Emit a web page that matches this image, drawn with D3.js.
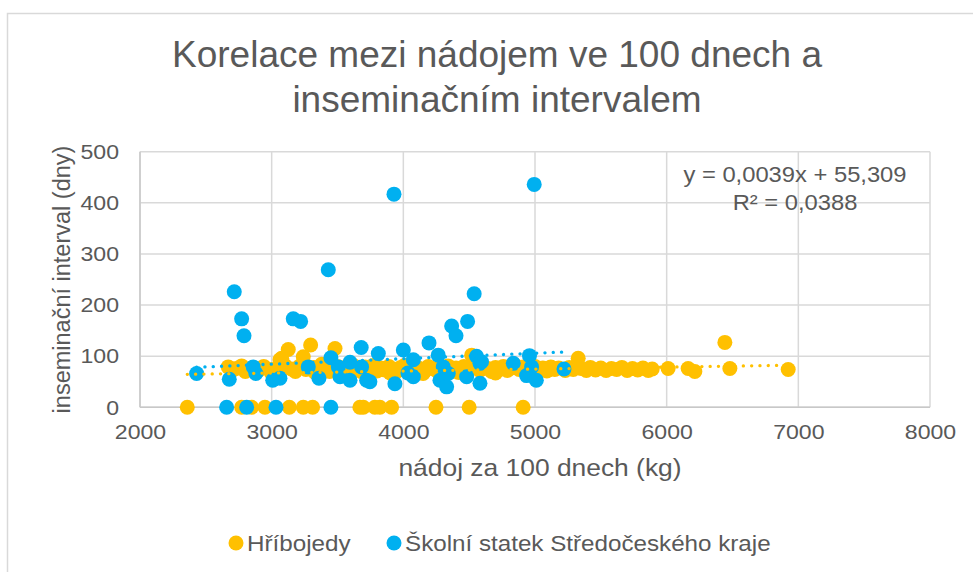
<!DOCTYPE html>
<html>
<head>
<meta charset="utf-8">
<script src="https://cdn.jsdelivr.net/npm/d3@7"></script>
<style>
  body { margin: 0; background: #fff; }
  svg { font-family: "Liberation Sans", Arial, sans-serif; }
</style>
</head>
<body>
<svg id="chart" width="973" height="572"></svg>
<script>
// Hříbojedy: [nádoj, interval]
const hribojedy = [
  [2359,0],[2772,0],[2848,0],[2949,0],[3134,0],[3240,0],[3311,0],[3670,0],[3696,0],
  [3784,0],[3822,0],[3911,0],[4248,0],[4500,0],[4910,0],
  [2670,79],[2700,72],[2730,76],[2772,81],[2800,70],[2830,75],[2860,78],[2900,72],
  [2940,80],[2980,74],[3010,70],[3040,77],[3063,93],[3076,96],[3100,82],[3126,113],
  [3150,75],[3180,70],[3210,80],[3240,99],[3260,74],[3296,122],[3320,78],[3350,72],
  [3380,84],[3410,76],[3440,70],[3481,115],[3500,80],[3530,73],[3560,78],[3590,71],
  [3620,82],[3650,76],[3680,70],[3710,79],[3740,74],[3770,82],[3800,71],[3830,77],
  [3860,73],[3890,80],[3920,75],[3950,70],[3980,78],[4010,82],[4040,74],[4070,71],
  [4100,79],[4130,75],[4160,70],[4190,80],[4220,76],[4250,72],[4280,79],[4310,74],
  [4340,81],[4370,70],[4400,77],[4430,73],[4460,80],[4490,75],[4519,102],[4531,98],
  [4550,78],[4580,72],[4610,80],[4640,76],[4670,70],[4700,78],[4730,74],[4760,80],
  [4790,72],[4820,77],[4850,82],[4880,74],[4910,79],[4940,71],[4970,76],[5000,80],
  [5030,73],[5060,77],[5090,71],[5120,79],[5150,74],[5180,77],[5230,72],[5260,78],
  [5290,74],[5328,96],[5350,76],[5390,72],[5420,78],[5460,73],[5500,77],[5540,72],
  [5580,76],[5620,74],[5660,78],[5700,72],[5740,76],[5780,73],[5820,77],[5860,72],
  [5890,75],[6011,76],[6163,76],[6214,70],[6442,127],[6480,76],[6923,74],
  [3000,66],[3330,68],[3600,66],[3900,67],[4150,66],[4420,68],[4700,67],[4990,68]
];

// Školní statek Středočeského kraje: [nádoj, interval]
const skolniStatek = [
  [2658,0],[2810,0],[3033,0],[3450,0],
  [3929,417],[4994,436],[3430,269],[2716,226],[2772,173],[2790,140],[3164,173],
  [3220,168],[4538,222],[4367,159],[4400,140],[4488,168],[4195,126],[3680,117],
  [3810,105],[4000,112],[4265,102],[4556,100],[4958,101],[3450,97],
  [2430,66],[2678,55],[2860,79],[2880,66],[3008,53],[3063,57],[3278,79],[3359,57],
  [3506,79],[3519,60],[3595,88],[3595,53],[3683,79],[3721,53],[3746,50],[3936,46],
  [4035,67],[4076,93],[4076,60],[4278,53],[4329,40],[4303,79],[4341,66],[4481,60],
  [4594,89],[4582,47],[4582,86],[4835,86],[4936,62],[5010,53],[4974,79],[5220,75]
];

const seriesNames = ["Hříbojedy", "Školní statek Středočeského kraje"];
const seriesColors = ["#FFC000", "#00B0F0"];

// trend lines: [slope, intercept]
const hribojedyTrend = [0.0039, 55.309];
const skolniTrend = [0.0107, 52.3];
const trendLabel = ["y = 0,0039x + 55,309", "R² = 0,0388"];

const xTicks = [2000, 3000, 4000, 5000, 6000, 7000, 8000];
const yTicks = [0, 100, 200, 300, 400, 500];

const titleLines = ["Korelace mezi nádojem ve 100 dnech a", "inseminačním intervalem"];
const xTitle = "nádoj za 100 dnech (kg)";
const yTitle = "inseminační interval (dny)";

const svg = d3.select("#chart");
const textColor = "#595959";
const sx = 1.1; // the text in the picture is a little wider than Liberation Sans

// chart frame
svg.append("rect")
  .attr("x", 7.5).attr("y", 13.5)
  .attr("width", 1000).attr("height", 600)
  .attr("fill", "none")
  .attr("stroke", "#d9d9d9")
  .attr("stroke-width", 1.5);

const x = d3.scaleLinear().domain([2000, 8000]).range([140, 930]);
const y = d3.scaleLinear().domain([0, 500]).range([407.3, 151.7]);

// gridlines
svg.append("g")
  .selectAll("line")
  .data(xTicks)
  .join("line")
  .attr("x1", d => x(d)).attr("x2", d => x(d))
  .attr("y1", y(0)).attr("y2", y(500))
  .attr("stroke", "#d9d9d9").attr("stroke-width", 1.5);

svg.append("g")
  .selectAll("line")
  .data(yTicks)
  .join("line")
  .attr("x1", x(2000)).attr("x2", x(8000))
  .attr("y1", d => y(d)).attr("y2", d => y(d))
  .attr("stroke", "#d9d9d9").attr("stroke-width", 1.5);

// axes lines
svg.append("line")
  .attr("x1", x(2000)).attr("x2", x(2000)).attr("y1", y(0)).attr("y2", y(500))
  .attr("stroke", "#c8c8c8").attr("stroke-width", 1.5);
svg.append("line")
  .attr("x1", x(2000)).attr("x2", x(8000)).attr("y1", y(0)).attr("y2", y(0))
  .attr("stroke", "#c8c8c8").attr("stroke-width", 1.5);

// tick labels
const xAxis = svg.append("g")
  .attr("transform", `translate(0,${y(0)})`)
  .call(d3.axisBottom(x).tickValues(xTicks).tickSize(0).tickPadding(17).tickFormat(d3.format("d")));
xAxis.select(".domain").remove();
xAxis.selectAll("text")
  .attr("fill", textColor).attr("font-size", 21)
  .attr("font-family", "Liberation Sans, Arial, sans-serif")
  .attr("transform", `scale(${sx},1)`);

const yAxis = svg.append("g")
  .attr("transform", `translate(${x(2000)},0)`)
  .call(d3.axisLeft(y).tickValues(yTicks).tickSize(0).tickPadding(20).tickFormat(d3.format("d")));
yAxis.select(".domain").remove();
yAxis.selectAll("text")
  .attr("fill", textColor).attr("font-size", 21)
  .attr("font-family", "Liberation Sans, Arial, sans-serif")
  .attr("x", -21 / sx)
  .attr("transform", `scale(${sx},1)`);

// markers
const allSeries = [hribojedy, skolniStatek];
allSeries.forEach((data, i) => {
  svg.append("g")
    .selectAll("circle")
    .data(data)
    .join("circle")
    .attr("cx", d => x(d[0]))
    .attr("cy", d => y(d[1]))
    .attr("r", 7.5)
    .attr("fill", seriesColors[i]);
});

// trend lines
const trends = [hribojedyTrend, skolniTrend];
allSeries.forEach((data, i) => {
  const ext = d3.extent(data, d => d[0]);
  const t = trends[i];
  svg.append("line")
    .attr("x1", x(ext[0])).attr("x2", x(ext[1]))
    .attr("y1", y(t[0] * ext[0] + t[1])).attr("y2", y(t[0] * ext[1] + t[1]))
    .attr("stroke", seriesColors[i])
    .attr("stroke-width", 3.3)
    .attr("stroke-linecap", "round")
    .attr("stroke-dasharray", "0.1,8.2");
});

// text placed at (px,py), stretched a bit in x
function label(txt, px, py, size, anchor, stretch) {
  return svg.append("text")
    .attr("transform", `translate(${px},${py}) scale(${stretch},1)`)
    .attr("text-anchor", anchor)
    .attr("fill", textColor)
    .attr("font-size", size)
    .text(txt);
}

// trend equation
trendLabel.forEach((t, i) => label(t, 795, 182 + i * 28, 22, "middle", 1.08));

// title
titleLines.forEach((t, i) => label(t, 497, 67 + i * 45, 37, "middle", 1));

// axis titles
label(xTitle, x(5000) + 5, 476, 24, "middle", sx);

svg.append("text")
  .attr("transform", `translate(70,${(y(0) + y(500)) / 2}) rotate(-90)`)
  .attr("text-anchor", "middle")
  .attr("fill", textColor).attr("font-size", 23.5)
  .text(yTitle);

// legend
const legendX = [236, 394];
seriesNames.forEach((name, i) => {
  svg.append("circle")
    .attr("cx", legendX[i]).attr("cy", 543)
    .attr("r", 7.5).attr("fill", seriesColors[i]);
  label(name, legendX[i] + 11, 550.5, 22, "start", sx);
});
</script>
</body>
</html>
